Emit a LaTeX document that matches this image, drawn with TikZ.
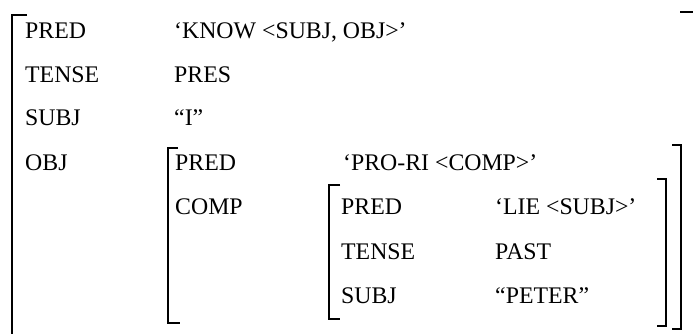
\documentclass[tikz,border=0pt]{standalone}
\usepackage{fontspec}
\setmainfont{Liberation Serif}
\usepackage{tikz}

\begin{document}
\begin{tikzpicture}[x=1pt,y=-1pt,font=\fontsize{23.8}{28}\selectfont,
  lbl/.style={anchor=base west,inner sep=0pt},
  brk/.style={draw=black,line width=2.4pt}]
  \clip (0,0) rectangle (693,334);
  \fill[white] (0,0) rectangle (693,334);
  % outer f-structure
  \node[lbl] (pred) at (25,39) {PRED};
  \node[lbl] (predv) at (174,39) {`KNOW <SUBJ, OBJ>'};
  \node[lbl] (tense) at (25,83) {TENSE};
  \node[lbl] (tensev) at (174,83) {PRES};
  \node[lbl] (subj) at (25,126) {SUBJ};
  \node[lbl] (subjv) at (174,126) {``I''};
  \node[lbl] (obj) at (25,170) {OBJ};
  \draw[brk] (27,15) -| (12,340);
  \draw[brk] (680,12) -| (695,340);
  % value of OBJ
  \node[lbl] (objpred) at (175,170) {PRED};
  \node[lbl] (objpredv) at (343,170) {`PRO-RI <COMP>'};
  \node[lbl] (comp) at (175,214) {COMP};
  \draw[brk] (178,148) -| (168,323) -- (180,323);
  \draw[brk] (672,145) -| (681,329) -- (672,329);
  % value of COMP
  \node[lbl] (cpred) at (341,214) {PRED};
  \node[lbl] (cpredv) at (495,214) {`LIE <SUBJ>'};
  \node[lbl] (ctense) at (341,259) {TENSE};
  \node[lbl] (ctensev) at (495,259) {PAST};
  \node[lbl] (csubj) at (341,303) {SUBJ};
  \node[lbl] (csubjv) at (495,303) {``PETER''};
  \draw[brk] (340,185) -| (329,319) -- (340,319);
  \draw[brk] (657,179) -| (666,326) -- (657,326);
\end{tikzpicture}
\end{document}
